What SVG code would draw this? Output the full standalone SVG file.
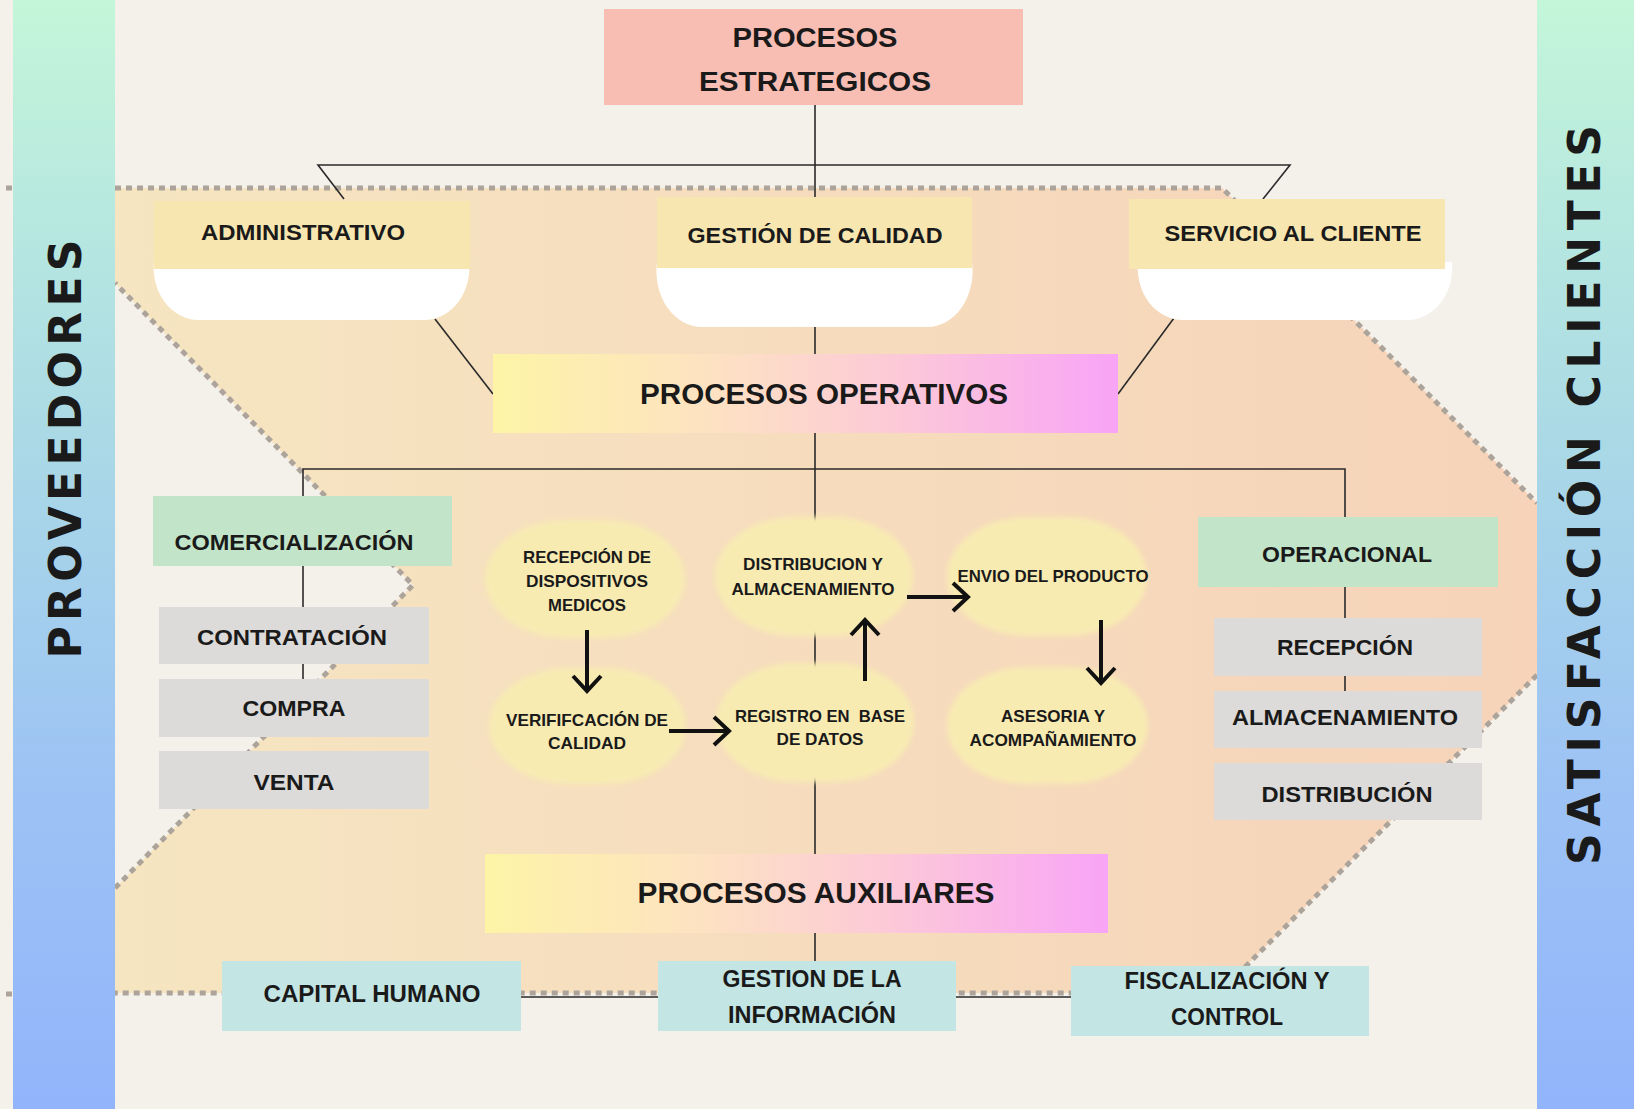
<svg xmlns="http://www.w3.org/2000/svg" width="1634" height="1109" viewBox="0 0 1634 1109">
<defs>
  <linearGradient id="barGrad" x1="0" y1="0" x2="0" y2="1">
    <stop offset="0" stop-color="#c4f6d9"/>
    <stop offset="0.4" stop-color="#aad9e6"/>
    <stop offset="0.7" stop-color="#9dc3f4"/>
    <stop offset="1" stop-color="#92b4fb"/>
  </linearGradient>
  <linearGradient id="bandGrad" x1="115" y1="0" x2="1537" y2="0" gradientUnits="userSpaceOnUse">
    <stop offset="0" stop-color="#f6e5c1"/>
    <stop offset="1" stop-color="#f6d3b9"/>
  </linearGradient>
  <linearGradient id="procGrad" x1="0" y1="0" x2="1" y2="0">
    <stop offset="0" stop-color="#fdf4a6"/>
    <stop offset="0.35" stop-color="#fde2c2"/>
    <stop offset="0.65" stop-color="#fcc9d8"/>
    <stop offset="1" stop-color="#f8a4f6"/>
  </linearGradient>
  <filter id="soft" x="-10%" y="-10%" width="120%" height="120%">
    <feGaussianBlur stdDeviation="2.5"/>
  </filter>
  <marker id="arrow" viewBox="-20 -20 40 40" refX="0" refY="0" markerWidth="40" markerHeight="40" markerUnits="userSpaceOnUse" orient="auto">
    <path d="M-15,-14 L0,0 L-15,14" fill="none" stroke="#111" stroke-width="4"/>
  </marker>
  <style>
    .t { font-family: "Liberation Sans", Arial, sans-serif; font-weight: bold; fill: #1a1a1a; text-anchor: middle; }
    .side { font-family: "DejaVu Sans", "Liberation Sans", sans-serif; font-weight: bold; fill: #1a1a1a; text-anchor: middle; font-size: 44px; }
    .line { stroke: #2a2a2a; stroke-width: 1.6; fill: none; }
    .arr { stroke: #111; stroke-width: 4; fill: none; marker-end: url(#arrow); }
    .dots { stroke: #aca49a; stroke-width: 5; stroke-dasharray: 6 5; fill: none; }
    .yel { fill: #f8e6b0; }
    .white { fill: #ffffff; }
    .grn { fill: #c2e5c9; }
    .gry { fill: #dcdbd9; }
    .teal { fill: #c3e5e4; }
    .ell { fill: #f8ebb2; filter: url(#soft); }
  </style>
</defs>

<rect width="1634" height="1109" fill="#f4f0ea"/>

<!-- central band -->
<g id="band">
  <polygon points="115,188 1222,188 1537,503 1537,675 1219,993 115,993 115,888 413,585 115,283" fill="url(#bandGrad)"/>
  <polyline class="dots" points="115,188 1222,188 1537,503"/>
  <polyline class="dots" points="1537,675 1219,993 115,993"/>
  <polyline class="dots" points="115,888 413,585 115,283"/>
  <line class="dots" x1="6" y1="188" x2="12" y2="188"/>
  <line class="dots" x1="6" y1="994" x2="12" y2="994"/>
</g>

<!-- side bars -->
<g id="proveedores">
  <rect x="13" y="0" width="102" height="1109" fill="url(#barGrad)"/>
  <text class="side" transform="translate(81,449) rotate(-90)" textLength="419" lengthAdjust="spacing">PROVEEDORES</text>
</g>
<g id="satisfaccion">
  <rect x="1537" y="0" width="97" height="1109" fill="url(#barGrad)"/>
  <text class="side" transform="translate(1600,495) rotate(-90)" textLength="740" lengthAdjust="spacing">SATISFACCIÓN CLIENTES</text>
</g>

<!-- connectors -->
<g id="connectors">
  <line class="line" x1="815" y1="105" x2="815" y2="199"/>
  <polyline class="line" points="344,199 318,165 1290,165 1263,199"/>
  <line class="line" x1="435" y1="319" x2="493" y2="394"/>
  <line class="line" x1="1174" y1="318" x2="1118" y2="394"/>
  <line class="line" x1="815" y1="326" x2="815" y2="354"/>
  <line class="line" x1="815" y1="433" x2="815" y2="855"/>
  <polyline class="line" points="303,497 303,469 1345,469 1345,518"/>
  <line class="line" x1="303" y1="566" x2="303" y2="680"/>
  <line class="line" x1="1345" y1="587" x2="1345" y2="691"/>
  <line class="line" x1="815" y1="933" x2="815" y2="962"/>
  <line class="line" x1="521" y1="997" x2="658" y2="997"/>
  <line class="line" x1="956" y1="997" x2="1071" y2="997"/>
</g>

<!-- strategic -->
<g id="estrategicos">
  <rect x="604" y="9" width="419" height="96" fill="#f8bdb3"/>
  <text class="t" x="815" y="47" font-size="27" textLength="165" lengthAdjust="spacingAndGlyphs">PROCESOS</text>
  <text class="t" x="815" y="91" font-size="27" textLength="232" lengthAdjust="spacingAndGlyphs">ESTRATEGICOS</text>
</g>

<g id="administrativo">
  <path class="white" d="M154,262 H469 A45,52 0 0 1 424,320 H199 A45,52 0 0 1 154,262 Z"/>
  <rect class="yel" x="154" y="201" width="316" height="68"/>
  <text class="t" x="303" y="240" font-size="22" textLength="204" lengthAdjust="spacingAndGlyphs">ADMINISTRATIVO</text>
</g>
<g id="gestion-calidad">
  <path class="white" d="M657,262 H972 A45,56 0 0 1 927,327 H702 A45,56 0 0 1 657,262 Z"/>
  <rect class="yel" x="657" y="197" width="315" height="71"/>
  <text class="t" x="815" y="243" font-size="22" textLength="255" lengthAdjust="spacingAndGlyphs">GESTIÓN DE CALIDAD</text>
</g>
<g id="servicio-cliente">
  <path class="white" d="M1138,262 H1452 A45,52 0 0 1 1407,320 H1183 A45,52 0 0 1 1138,262 Z"/>
  <rect class="yel" x="1129" y="199" width="316" height="70"/>
  <text class="t" x="1293" y="241" font-size="22" textLength="257" lengthAdjust="spacingAndGlyphs">SERVICIO AL CLIENTE</text>
</g>

<g id="operativos">
  <rect x="493" y="354" width="625" height="79" fill="url(#procGrad)"/>
  <text class="t" x="824" y="404" font-size="29" textLength="368" lengthAdjust="spacingAndGlyphs">PROCESOS OPERATIVOS</text>
</g>

<!-- left column -->
<g id="comercializacion">
  <rect class="grn" x="153" y="496" width="299" height="70"/>
  <text class="t" x="294" y="550" font-size="22" textLength="239" lengthAdjust="spacingAndGlyphs">COMERCIALIZACIÓN</text>
</g>
<g id="contratacion">
  <rect class="gry" x="159" y="607" width="270" height="57"/>
  <text class="t" x="292" y="645" font-size="22" textLength="190" lengthAdjust="spacingAndGlyphs">CONTRATACIÓN</text>
</g>
<g id="compra">
  <rect class="gry" x="159" y="679" width="270" height="58"/>
  <text class="t" x="294" y="716" font-size="22" textLength="103" lengthAdjust="spacingAndGlyphs">COMPRA</text>
</g>
<g id="venta">
  <rect class="gry" x="159" y="751" width="270" height="58"/>
  <text class="t" x="294" y="790" font-size="22" textLength="81" lengthAdjust="spacingAndGlyphs">VENTA</text>
</g>

<!-- right column -->
<g id="operacional">
  <rect class="grn" x="1198" y="517" width="300" height="70"/>
  <text class="t" x="1347" y="562" font-size="22" textLength="170" lengthAdjust="spacingAndGlyphs">OPERACIONAL</text>
</g>
<g id="recepcion">
  <rect class="gry" x="1214" y="618" width="268" height="58"/>
  <text class="t" x="1345" y="655" font-size="22" textLength="136" lengthAdjust="spacingAndGlyphs">RECEPCIÓN</text>
</g>
<g id="almacenamiento">
  <rect class="gry" x="1214" y="691" width="268" height="57"/>
  <text class="t" x="1345" y="725" font-size="22" textLength="226" lengthAdjust="spacingAndGlyphs">ALMACENAMIENTO</text>
</g>
<g id="distribucion">
  <rect class="gry" x="1214" y="763" width="268" height="57"/>
  <text class="t" x="1347" y="802" font-size="22" textLength="171" lengthAdjust="spacingAndGlyphs">DISTRIBUCIÓN</text>
</g>

<!-- central flow -->
<g id="recepcion-dispositivos">
  <rect class="ell" x="485" y="520" width="200" height="118" rx="80" ry="59"/>
  <text class="t" x="587" y="563" font-size="16.5" textLength="128" lengthAdjust="spacingAndGlyphs">RECEPCIÓN DE</text>
  <text class="t" x="587" y="587" font-size="16.5" textLength="122" lengthAdjust="spacingAndGlyphs">DISPOSITIVOS</text>
  <text class="t" x="587" y="611" font-size="16.5" textLength="78" lengthAdjust="spacingAndGlyphs">MEDICOS</text>
</g>
<g id="verificacion">
  <rect class="ell" x="489" y="668" width="197" height="116" rx="80" ry="58"/>
  <text class="t" x="587" y="726" font-size="16.5" textLength="162" lengthAdjust="spacingAndGlyphs">VERIFIFCACIÓN DE</text>
  <text class="t" x="587" y="749" font-size="16.5" textLength="78" lengthAdjust="spacingAndGlyphs">CALIDAD</text>
</g>
<g id="distribucion-almacenamiento">
  <rect class="ell" x="715" y="517" width="198" height="119" rx="80" ry="59"/>
  <text class="t" x="813" y="570" font-size="16.5" textLength="140" lengthAdjust="spacingAndGlyphs">DISTRIBUCION Y</text>
  <text class="t" x="813" y="595" font-size="16.5" textLength="163" lengthAdjust="spacingAndGlyphs">ALMACENAMIENTO</text>
</g>
<g id="registro">
  <rect class="ell" x="716" y="663" width="198" height="119" rx="80" ry="59"/>
  <text class="t" x="820" y="722" font-size="16.5" textLength="170" lengthAdjust="spacingAndGlyphs" xml:space="preserve">REGISTRO EN  BASE</text>
  <text class="t" x="820" y="745" font-size="16.5" textLength="87" lengthAdjust="spacingAndGlyphs">DE DATOS</text>
</g>
<g id="envio">
  <rect class="ell" x="947" y="517" width="200" height="119" rx="80" ry="59"/>
  <text class="t" x="1053" y="582" font-size="16.5" textLength="191" lengthAdjust="spacingAndGlyphs">ENVIO DEL PRODUCTO</text>
</g>
<g id="asesoria">
  <rect class="ell" x="947" y="667" width="201" height="117" rx="80" ry="58"/>
  <text class="t" x="1053" y="722" font-size="16.5" textLength="104" lengthAdjust="spacingAndGlyphs">ASESORIA Y</text>
  <text class="t" x="1053" y="746" font-size="16.5" textLength="167" lengthAdjust="spacingAndGlyphs">ACOMPAÑAMIENTO</text>
</g>

<g id="flow-arrows">
  <line class="arr" x1="587" y1="630" x2="587" y2="691"/>
  <line class="arr" x1="669" y1="731" x2="729" y2="731"/>
  <line class="arr" x1="865" y1="681" x2="865" y2="620"/>
  <line class="arr" x1="907" y1="597" x2="968" y2="597"/>
  <line class="arr" x1="1101" y1="620" x2="1101" y2="683"/>
</g>

<g id="auxiliares">
  <rect x="485" y="854" width="623" height="79" fill="url(#procGrad)"/>
  <text class="t" x="816" y="903" font-size="29" textLength="357" lengthAdjust="spacingAndGlyphs">PROCESOS AUXILIARES</text>
</g>

<g id="capital-humano">
  <rect class="teal" x="222" y="961" width="299" height="70"/>
  <text class="t" x="372" y="1002" font-size="23" textLength="217" lengthAdjust="spacingAndGlyphs">CAPITAL HUMANO</text>
</g>
<g id="gestion-informacion">
  <rect class="teal" x="658" y="961" width="298" height="70"/>
  <text class="t" x="812" y="987" font-size="23" textLength="179" lengthAdjust="spacingAndGlyphs">GESTION DE LA</text>
  <text class="t" x="812" y="1023" font-size="23" textLength="168" lengthAdjust="spacingAndGlyphs">INFORMACIÓN</text>
</g>
<g id="fiscalizacion">
  <rect class="teal" x="1071" y="966" width="298" height="70"/>
  <text class="t" x="1227" y="989" font-size="23" textLength="205" lengthAdjust="spacingAndGlyphs">FISCALIZACIÓN Y</text>
  <text class="t" x="1227" y="1025" font-size="23" textLength="112" lengthAdjust="spacingAndGlyphs">CONTROL</text>
</g>
</svg>
